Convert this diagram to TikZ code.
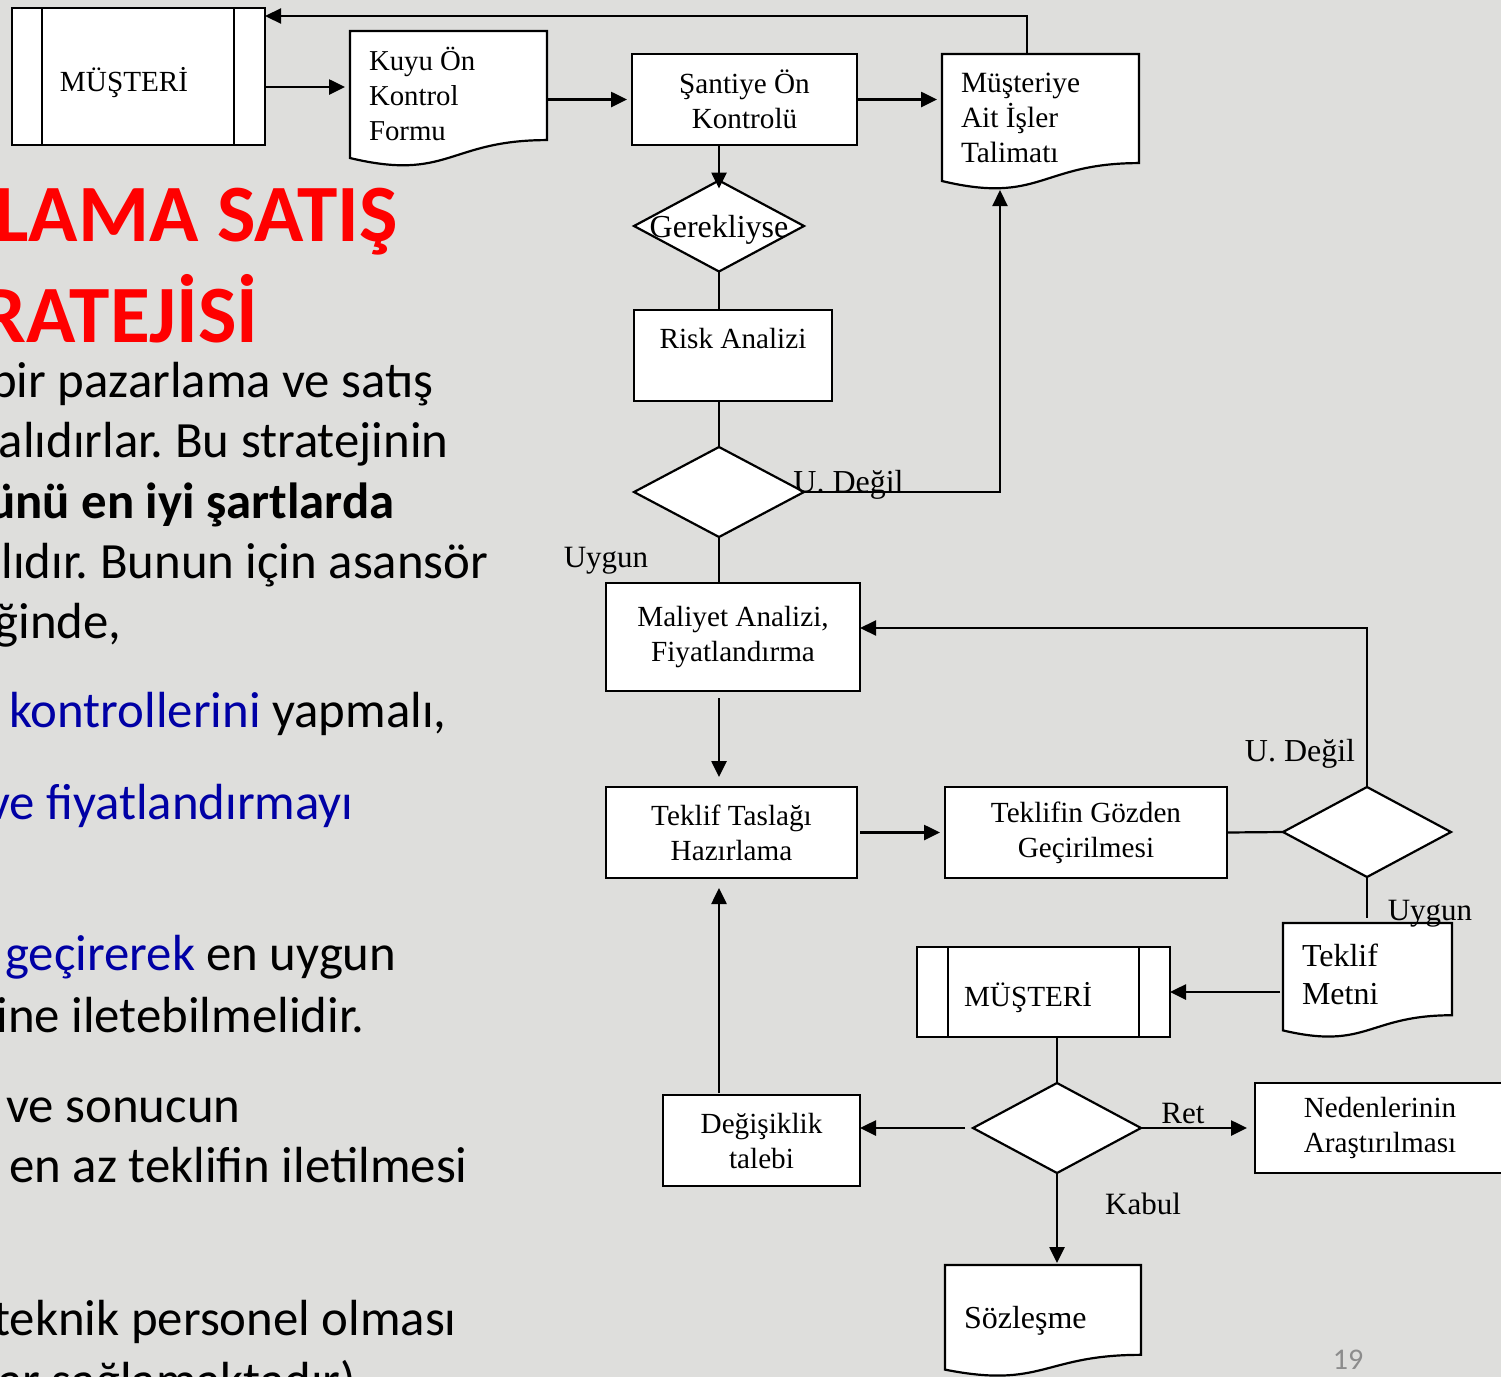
\documentclass[tikz,border=0pt]{standalone}
\usepackage{fontspec}
\setmainfont{Liberation Serif}
\newfontfamily\calibri{Carlito}
\usetikzlibrary{shapes.geometric,arrows.meta,calc}
\pgfdeclarelayer{bg}
\pgfdeclarelayer{behind}
\pgfsetlayers{bg,behind,main}
\frenchspacing

\definecolor{slidebg}{RGB}{222,222,220}
\definecolor{titlered}{RGB}{255,0,0}
\definecolor{linkblue}{RGB}{0,0,165}
\definecolor{pagegray}{RGB}{140,140,140}

% document symbol: straight top and sides, wavy bottom edge (sizes in px units)
\newcommand{\docsheet}[3]{%
  \begin{pgfonlayer}{behind}
    \draw[line width=1.1pt, fill=white, shift={(#1.north west)}]
      (0,0) -- (#2,0) -- (#2,{0.802*#3})
      .. controls ({0.5*#2},{0.802*#3}) and ({0.5*#2},{1.1075*#3}) .. (0,{0.934*#3}) -- cycle;
  \end{pgfonlayer}}
% left-aligned text block of given width, shifted vertically by a given amount
\newcommand{\sheettext}[3]{\raisebox{#2}[\height][\depth]{\parbox[c]{#1}{\raggedright #3}}}
% one line of text kept at its natural box, content shifted vertically
\newcommand{\shifted}[2]{\raisebox{#1}[\height][\depth]{#2}}

\begin{document}
\begin{tikzpicture}[x=0.5pt,y=-0.5pt,
  flow/.style={font=\fontsize{14.6}{17.5}\selectfont},
  box/.style={draw, fill=white, line width=1.1pt, inner sep=0pt, outer sep=0pt, align=center, flow},
  actor/.style={draw, fill=white, line width=1.1pt, inner sep=0pt, outer sep=0pt, flow},
  sheet/.style={inner ysep=0pt, inner xsep=9.5pt, outer sep=0pt, flow},
  decision/.style={diamond, draw, fill=white, line width=1.1pt, inner sep=0pt, outer sep=0pt},
  link/.style={line width=1.1pt},
  flowarrow/.style={line width=1.3pt, -{Triangle[length=8pt,width=7.5pt]}},
  note/.style={font=\fontsize{15.5}{17.5}\selectfont, inner sep=0pt},
  body/.style={font=\calibri\fontsize{25.4}{30}\selectfont, inner sep=0pt},
  heading/.style={font=\calibri\bfseries\fontsize{40.7}{48}\selectfont, text=titlered, inner sep=0pt},
]
\useasboundingbox (0,0) rectangle (1501,1377);
\clip (0,0) rectangle (1501,1377);
\begin{pgfonlayer}{bg}
  \fill[slidebg] (0,0) rectangle (1501,1377);
\end{pgfonlayer}

% ---------- slide text on the left ----------
\node[heading, anchor=base west] (h1) at (-6,241) {LAMA SATIŞ};
\node[heading, anchor=base east] (h2) at (259,342) {RATEJİSİ};

\node[body, anchor=base east] (t1) at (434,397) {bir pazarlama ve satış};
\node[body, anchor=base east] (t2) at (449,457) {alıdırlar. Bu stratejinin};
\node[body, anchor=base east, font=\calibri\bfseries\fontsize{25.4}{30}\selectfont] (t3) at (395,518) {ünü en iyi şartlarda};
\node[body, anchor=base east] (t4) at (489,578) {lıdır. Bunun için asansör};
\node[body, anchor=base east] (t5) at (122,638) {ğinde,};
\node[body, anchor=base west] (t6) at (9,727) {\textcolor{linkblue}{kontrollerini} yapmalı,};
\node[body, anchor=base east, text=linkblue] (t7) at (354,819) {ve fiyatlandırmayı};
\node[body, anchor=base west] (t8) at (5,970) {\textcolor{linkblue}{geçirerek} en uygun};
\node[body, anchor=base east] (t9) at (365,1032) {ine iletebilmelidir.};
\node[body, anchor=base west] (t10) at (6,1122) {ve sonucun};
\node[body, anchor=base west] (t11) at (9,1182) {en az teklifin iletilmesi};
\node[body, anchor=base east] (t12) at (457,1335) {teknik personel olması};
\node[body, anchor=base west] (t13) at (-2,1397) {ar sağlamaktadır)};

\node[font=\calibri\fontsize{15}{18}\selectfont, text=pagegray, inner sep=0pt] (pg) at (1348,1360) {19};

% ---------- flow chart shapes ----------
\node[actor, minimum width=126.5pt, minimum height=68.5pt] (m1) at (138.5,76.5)
  {\shifted{-3pt}{\makebox[78.5pt][l]{MÜŞTERİ}}};
\draw[link] ([xshift=15pt]m1.north west) -- ([xshift=15pt]m1.south west);
\draw[link] ([xshift=-15.5pt]m1.north east) -- ([xshift=-15.5pt]m1.south east);

\node[sheet, minimum width=98.5pt, minimum height=68pt, font=\fontsize{14.4}{17.5}\selectfont] (kuyu) at (448.5,99)
  {\sheettext{79.5pt}{2.5pt}{Kuyu Ön\\Kontrol\\Formu}};
\docsheet{kuyu}{197}{136}

\node[box, minimum width=112.5pt, minimum height=45.5pt] (san) at (744.5,99.5) {Şantiye Ön\\Kontrolü};

\node[sheet, minimum width=98.5pt, minimum height=68pt, font=\fontsize{14.7}{17.7}\selectfont] (mus) at (1040.5,122)
  {\sheettext{79.5pt}{2pt}{Müşteriye\\Ait İşler\\Talimatı}};
\docsheet{mus}{197}{136}

\node[decision, minimum width=85pt, minimum height=45.5pt] (d1) at (719,226) {};
\node[note, font=\fontsize{16}{18}\selectfont] (d1t) at ([yshift=-2pt]d1.center) {Gerekliyse};

\node[box, minimum width=99pt, minimum height=45.5pt] (risk) at (733,355.5) {Risk Analizi\\\mbox{}};

\node[decision, minimum width=85pt, minimum height=45pt] (d2) at (719,492) {};

\node[box, minimum width=127pt, minimum height=54pt] (mal) at (733,637) {Maliyet Analizi,\\Fiyatlandırma};

\node[box, minimum width=125.5pt, minimum height=45.5pt] (tt) at (731.5,832.5) {Teklif Taslağı\\Hazırlama};
\node[box, minimum width=141pt, minimum height=45.5pt] (tg) at (1086,832.5) {Teklifin Gözden\\Geçirilmesi};

\node[decision, minimum width=84pt, minimum height=45pt] (d3) at (1367,832) {};

\node[sheet, minimum width=84.5pt, minimum height=57.5pt, font=\fontsize{16}{19}\selectfont] (tm) at (1367.5,980.5)
  {\sheettext{65.5pt}{3pt}{Teklif\\Metni}};
\docsheet{tm}{169}{115}

\node[actor, minimum width=126.5pt, minimum height=45pt] (m2) at (1043.5,992)
  {\shifted{-3pt}{\makebox[79.5pt][l]{MÜŞTERİ}}};
\draw[link] ([xshift=15.5pt]m2.north west) -- ([xshift=15.5pt]m2.south west);
\draw[link] ([xshift=-15.5pt]m2.north east) -- ([xshift=-15.5pt]m2.south east);

\node[decision, minimum width=84pt, minimum height=45pt] (d4) at (1057,1128) {};

\node[box, minimum width=98.5pt, minimum height=45.5pt] (deg) at (761.5,1140.5) {Değişiklik\\talebi};
\node[box, minimum width=125pt, minimum height=45pt] (ned) at (1380,1128) {Nedenlerinin\\Araştırılması};

\node[sheet, minimum width=98pt, minimum height=56pt, font=\fontsize{16}{19}\selectfont] (soz) at (1043,1321)
  {\sheettext{79pt}{0pt}{Sözleşme}};
\docsheet{soz}{196}{112}

% ---------- connectors ----------
\coordinate (m1out) at ([yshift=-5.25pt]m1.east);
\draw[flowarrow, shorten >=2.5pt] (m1out) -- (m1out -| kuyu.west);
\draw[flowarrow, shorten >=2.5pt] (kuyu.east |- san.west) -- (san.west);
\draw[flowarrow, shorten >=2.5pt] (san.east) -- (san.east -| mus.west);
\draw[flowarrow, link] ($(mus.north west)+(85,0)$) |- ($(m1.north east)+(0,8)$);
\draw[flowarrow, shorten >=-4pt] (d1.north |- san.south) -- (d1.north);
\draw[link] (d1.south) -- (d1.south |- risk.north);
\draw[link] (d2.north |- risk.south) -- (d2.north);
\draw[flowarrow, link] (d2.east) -| ($(mus.south west)+(58,0)$);
\draw[link] (d2.south) -- (d2.south |- mal.north);
\draw[flowarrow, shorten <=3.5pt, shorten >=5pt] (mal.south -| d2.south) -- (tt.north -| d2.south);
\draw[flowarrow, shorten <=1.5pt, shorten >=2.5pt] (tt.east) -- (tg.west);
\draw[link] (tg.east) -- (d3.west);
\draw[flowarrow, link] (d3.north) |- ($(mal.east)+(0,-9)$);
\draw[link, shorten >=2.5pt] (d3.south) -- (d3.south |- tm.north);
\draw[flowarrow, shorten <=1.5pt] (m2.east -| tm.west) -- (m2.east);
\draw[link] (d4.north |- m2.south) -- (d4.north);
\draw[flowarrow, shorten <=4pt] (d4.west) -- (d4.west -| deg.east);
\draw[flowarrow, shorten >=4pt] (d4.east) -- (ned.west);
\draw[flowarrow, shorten >=1pt] (d4.south) -- (d4.south |- soz.north);
\draw[flowarrow, shorten <=1pt, shorten >=5pt] (deg.north -| d2.south) -- (tt.south -| d2.south);

% ---------- branch labels ----------
\node[note, anchor=west, font=\fontsize{16}{18}\selectfont] (l1) at (793,485) {U. Değil};
\node[note] (l2) at (606,561) {Uygun};
\node[note, font=\fontsize{16}{18}\selectfont] (l3) at (1300,754) {U. Değil};
\node[note] (l4) at (1430,914) {Uygun};
\node[note] (l5) at (1183,1113) {Ret};
\node[note] (l6) at (1143,1204) {Kabul};
\end{tikzpicture}
\end{document}
